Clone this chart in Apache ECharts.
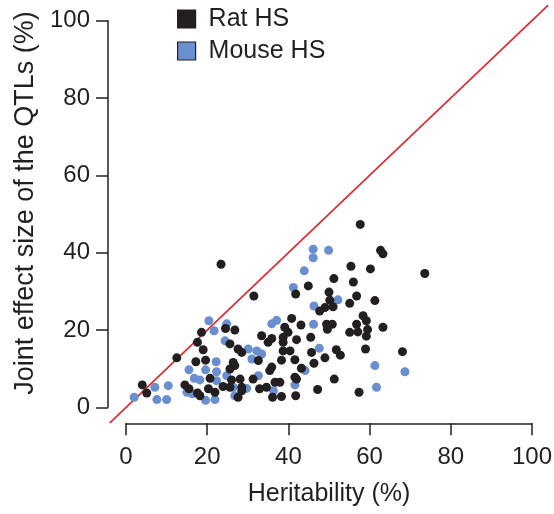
<!DOCTYPE html>
<html><head><meta charset="utf-8">
<script src="https://cdn.jsdelivr.net/npm/echarts@6/dist/echarts.min.js"></script>
<style>html,body{margin:0;padding:0;background:#fff}#c{width:554px;height:514px}</style>
</head><body><div id="c"></div>
<script>
const seriesNames = ['Rat HS', 'Mouse HS'];
const ratHS = [
  [18.6,19.4],[17.6,16.8],[19.0,14.9],[12.5,12.8],[17.2,11.8],[19.6,12.2],[24.5,20.4],
  [4.0,5.8],[5.1,3.7],[20.7,7.5],[14.5,5.8],[15.5,4.8],[17.6,3.7],[18.2,3.0],[20.3,4.8],
  [21.9,3.9],[47.7,24.9],[49.0,25.8],[40.8,23.0],[43.1,21.3],[39.1,20.7],[39.9,19.4],
  [49.6,20.2],[45.5,18.1],[26.8,20.0],[33.4,18.5],[35.9,17.8],[35.0,16.8],[38.7,18.1],
  [38.7,16.8],[42.0,17.5],[25.6,16.4],[27.6,15.1],[28.5,14.2],[38.7,14.6],[40.4,14.6],
  [45.7,14.2],[49.0,12.8],[32.6,12.1],[38.3,12.2],[41.6,12.3],[46.3,11.4],[26.4,11.6],
  [26.8,10.8],[25.6,9.9],[35.9,10.4],[35.4,9.5],[43.2,10.1],[41.6,7.8],[42.0,7.3],
  [31.3,7.3],[28.1,7.3],[26.0,7.1],[23.9,5.4],[25.6,5.2],[28.5,5.2],[32.9,4.8],[34.6,5.2],
  [36.7,6.5],[37.9,6.5],[28.5,4.3],[27.6,2.6],[36.1,2.6],[38.3,2.8],[41.8,3.0],[47.2,4.6],
  [55.1,26.9],[61.3,27.6],[51.0,26.0],[58.4,23.7],[59.2,22.4],[56.8,21.5],[49.4,21.5],
  [50.8,21.5],[55.1,19.4],[57.1,19.5],[59.5,20.1],[59.2,18.4],[63.3,20.7],[59.0,15.1],
  [51.8,14.9],[52.8,13.5],[68.1,14.4],[51.3,7.3],[57.4,3.9],[23.4,37.0],[31.5,28.8],
  [44.9,31.4],[41.8,29.3],[57.7,47.3],[62.7,40.6],[63.3,39.7],[55.4,36.5],[60.2,35.8],
  [73.6,34.6],[51.2,33.3],[56.0,32.4],[50.0,29.8],[56.8,28.8],[50.2,27.7]
];
const mouseHS = [
  [20.4,22.4],[21.7,19.8],[24.4,17.2],[22.2,11.8],[15.5,9.7],[19.6,9.7],[22.3,9.2],
  [16.8,7.5],[18.2,7.1],[22.3,6.9],[10.4,5.6],[7.1,5.2],[15.0,3.9],[2.0,2.6],[7.6,2.0],
  [10.0,2.0],[19.6,1.8],[16.3,3.5],[21.9,2.0],[46.3,26.2],[35.9,21.6],[37.1,22.5],
  [46.2,21.5],[24.8,21.6],[30.1,15.1],[32.2,14.6],[33.4,13.8],[31.0,12.5],[47.6,15.3],
  [24.8,8.2],[32.6,8.2],[26.4,5.2],[29.7,4.9],[26.8,3.0],[36.3,4.3],[41.6,5.8],[44.1,9.5],
  [52.2,27.8],[61.3,10.8],[68.7,9.2],[61.7,5.2],[46.1,40.9],[46.1,38.7],[43.9,35.3],
  [41.2,31.0],[49.9,40.6]
];
const refLine = [[-4,-4],[104,104]];
const plotMin = -4, plotMax = 104;
const axisMin = 0, axisMax = 100, axisStep = 20;

const ink = '#231f20';
const chart = echarts.init(document.getElementById('c'), null, {renderer:'canvas'});
const shownAxis = (extra) => Object.assign({
  type: 'value', gridIndex: 1, min: axisMin, max: axisMax, interval: axisStep,
  axisLine: {show: true, onZero: false, lineStyle: {color: ink, width: 1.5}},
  axisTick: {show: true, length: 12, lineStyle: {color: ink, width: 1.5}},
  splitLine: {show: false}
}, extra);
chart.setOption({
  animation: false,
  backgroundColor: '#ffffff',
  textStyle: {fontFamily: 'Liberation Sans, Arial, sans-serif'},
  grid: [
    {left: 109.8, top: 5.2, right: 5.8, bottom: 91.2, outerBoundsMode: 'none', containLabel: false},
    {left: 126, top: 20.7, right: 22, bottom: 106.7, outerBoundsMode: 'none', containLabel: false}
  ],
  legend: {
    data: seriesNames, orient: 'vertical', left: 177, top: 6.5, padding: 0,
    icon: 'rect', itemWidth: 18, itemHeight: 18, itemGap: 7,
    itemStyle: {borderColor: ink, borderWidth: 1.2},
    textStyle: {fontSize: 25, color: ink, lineHeight: 25, padding: [0,0,0,8]}
  },
  xAxis: [
    {type: 'value', gridIndex: 0, min: plotMin, max: plotMax, show: false, splitLine: {show: false}},
    shownAxis({
      offset: 16, name: 'Heritability (%)', nameLocation: 'middle', nameGap: 58,
      nameTextStyle: {fontSize: 25, color: ink},
      axisLabel: {fontSize: 24, color: ink, margin: 22}
    })
  ],
  yAxis: [
    {type: 'value', gridIndex: 0, min: plotMin, max: plotMax, show: false, splitLine: {show: false}},
    shownAxis({
      offset: 18, name: 'Joint effect size of the QTLs (%)', nameLocation: 'middle', nameGap: 69,
      nameTextStyle: {fontSize: 27, color: ink, padding: [0,0,0,22]},
      axisLabel: {fontSize: 24, color: ink, margin: 18}
    })
  ],
  series: [
    {type: 'line', xAxisIndex: 0, yAxisIndex: 0, data: refLine, symbol: 'none', silent: true, z: 1,
     lineStyle: {color: '#e8222a', width: 1.6}},
    {name: 'Mouse HS', type: 'scatter', xAxisIndex: 0, yAxisIndex: 0, data: mouseHS, symbolSize: 9, z: 2,
     itemStyle: {color: '#6a8fd0', opacity: 1}},
    {name: 'Rat HS', type: 'scatter', xAxisIndex: 0, yAxisIndex: 0, data: ratHS, symbolSize: 9, z: 3,
     itemStyle: {color: ink, opacity: 1}}
  ]
});
</script></body></html>
